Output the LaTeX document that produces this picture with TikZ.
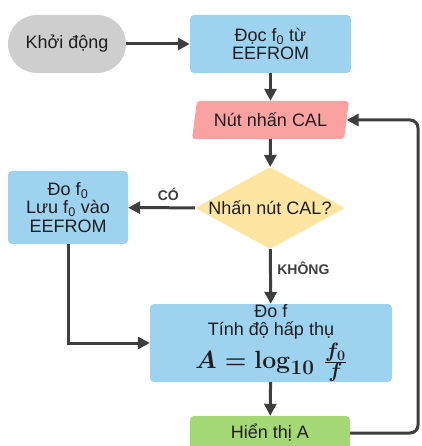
\documentclass[tikz,border=0pt]{standalone}
\usepackage[no-math]{fontspec}
\setmainfont{Liberation Sans}
\usetikzlibrary{shapes.geometric,arrows.meta}

\begin{document}
\begin{tikzpicture}[x=1pt,y=-1pt,
    box/.style={shape=rectangle,rounded corners=4pt,align=center,text=txtc,font=\fontsize{18}{18.5}\selectfont},
    link/.style={draw=arrc,line width=3pt,-{Triangle[length=12pt,width=12pt]}},
    lbl/.style={font=\bfseries\fontsize{14}{16}\selectfont,text=arrc}]
    \definecolor{greyc}{RGB}{206,206,206}
    \definecolor{bluec}{RGB}{158,211,240}
    \definecolor{pinkc}{RGB}{250,162,162}
    \definecolor{yellowc}{RGB}{255,229,162}
    \definecolor{greenc}{RGB}{164,216,116}
    \definecolor{arrc}{RGB}{62,62,62}
    \definecolor{txtc}{RGB}{30,30,30}
    \useasboundingbox (0,0) rectangle (421,446);
    \node[box,fill=greyc,rounded corners=29pt,minimum width=118pt,minimum height=58pt] (start) at (67,44) {Khởi động};
    \node[box,fill=bluec,minimum width=161pt,minimum height=58pt] (read) at (270.5,44) {Đọc f\textsubscript{0} từ\\EEFROM};
    \node[box,shape=trapezium,trapezium left angle=75,trapezium right angle=105,trapezium stretches=true,rounded corners=3pt,fill=pinkc,minimum width=157pt,minimum height=38pt,inner sep=0pt] (btn) at (270.5,120) {Nút nhấn CAL};
    \node[box,shape=diamond,fill=yellowc,minimum width=150pt,minimum height=82pt,inner sep=0pt,rounded corners=2pt,
        label={[box]center:Nhấn nút CAL?}] (ask) at (270,208) {};
    \node[box,fill=bluec,minimum width=120pt,minimum height=73pt] (save) at (68,207.5) {Đo f\textsubscript{0}\\Lưu f\textsubscript{0} vào\\EEFROM};
    \node[box,fill=bluec,minimum width=242pt,minimum height=78pt,inner sep=0pt] (calc) at (271,343) {Đo f\\Tính độ hấp thụ\\[3pt]{\fontsize{28.5}{29}\selectfont\boldmath$A=\log_{10}\,\frac{f_0}{f}$}};
    \node[box,fill=greenc,minimum width=160pt,minimum height=34pt] (show) at (270,433) {Hiển thị A};
    \coordinate (back) at (418,120);

    \draw[link] (start) -- (read);
    \draw[link] (read) -- (btn);
    \draw[link] (btn) -- (ask);
    \draw[link] (ask) -- node[lbl,above=2pt,pos=0.4] {CÓ} (save);
    \draw[link] (ask) -- node[lbl,right=2pt,pos=0.35] {KHÔNG} (calc);
    \draw[link] (save) |- (calc);
    \draw[link] (calc) -- (show);
    \draw[link,rounded corners=8pt] (show) -| (back) -- (btn);
\end{tikzpicture}
\end{document}
